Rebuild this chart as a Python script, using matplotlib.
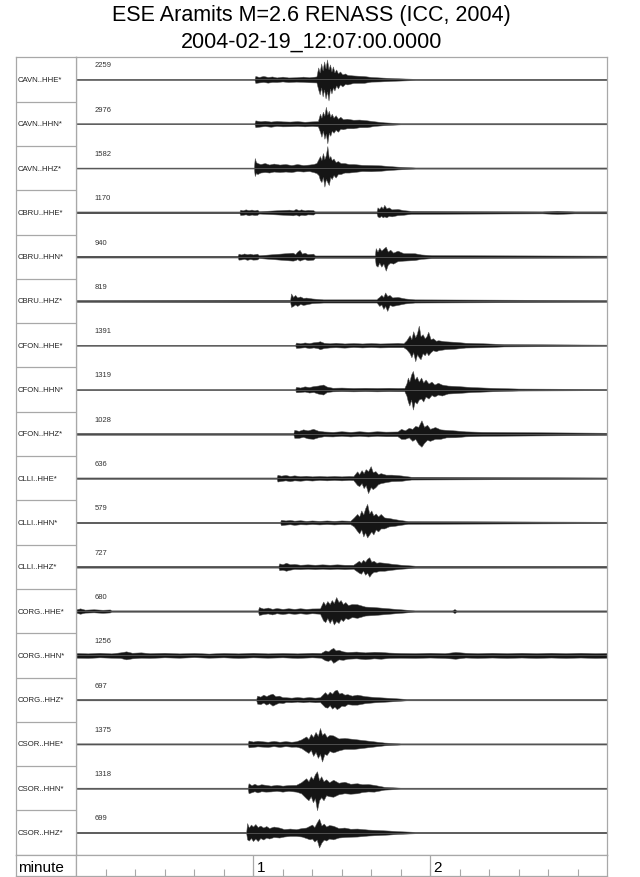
import matplotlib
matplotlib.use('Agg')
import numpy as np
import matplotlib.pyplot as plt

plt.rcParams['font.family'] = ['Liberation Sans', 'DejaVu Sans']

TITLE_1 = 'ESE Aramits M=2.6 RENASS (ICC, 2004)'
TITLE_2 = '2004-02-19_12:07:00.0000'

STATIONS = ['CAVN..HHE*', 'CAVN..HHN*', 'CAVN..HHZ*',
            'CBRU..HHE*', 'CBRU..HHN*', 'CBRU..HHZ*',
            'CFON..HHE*', 'CFON..HHN*', 'CFON..HHZ*',
            'CLLI..HHE*', 'CLLI..HHN*', 'CLLI..HHZ*',
            'CORG..HHE*', 'CORG..HHN*', 'CORG..HHZ*',
            'CSOR..HHE*', 'CSOR..HHN*', 'CSOR..HHZ*']
COUNTS = [2259, 2976, 1582, 1170, 940, 819, 1391, 1319, 1028,
          636, 579, 727, 680, 1256, 697, 1375, 1318, 699]

# trace envelopes: time (s), excursion up / down (px)
CAVN_HHE = ([0, 60.5, 60.8, 62, 63.5, 65, 66.5, 68, 70, 72, 74.6, 77, 79, 81.5,
             82.1, 82.6, 83.1, 83.6, 84.1, 84.6, 85.1, 85.6, 86.1, 86.6, 87.1, 87.6, 88.2, 88.8, 89.5, 90.3, 91.2, 92,
             94, 97.6, 100, 103, 108, 115, 180],
            [0.5, 0.5, 3.5, 2.5, 3.5, 2.5, 3, 2, 2.8, 2, 2.2, 2.8, 2.2, 3,
             12, 7, 16, 9, 18, 11, 20, 10, 15, 8, 13, 7, 10, 6, 8, 5, 6, 4.5,
             4, 3.4, 2.5, 2, 1.3, 0.6, 0.6],
            [0.5, 0.5, 3.5, 3, 2.5, 3.2, 2.5, 2.6, 2, 2.6, 2.2, 2.4, 2.8, 3,
             10, 15, 8, 17, 10, 19, 12, 21, 9, 14, 8, 11, 6, 9, 5, 7, 4.5, 5,
             3.5, 3.4, 2.2, 2, 1.3, 0.6, 0.6])
CAVN_HHN = ([0, 60.5, 60.8, 62.5, 64, 66, 68, 70, 72.5, 75, 77.5, 80, 82,
             82.7, 83.2, 83.7, 84.2, 84.7, 85.2, 85.7, 86.2, 86.7, 87.3, 88, 88.8, 89.6, 90.5, 91.8,
             94, 96, 98.7, 101, 104.5, 110, 180],
            [0.5, 0.5, 3.4, 2.5, 3, 2.2, 2.8, 2.4, 2.2, 2.6, 2, 2.4, 2.6,
             10, 6, 12, 8, 17, 9, 13, 7, 10, 6, 8.5, 5, 7, 4.5, 5,
             4, 4.2, 3.4, 2.5, 1.4, 0.6, 0.6],
            [0.5, 0.5, 3.4, 2.8, 2.3, 3, 2.2, 2.6, 2.5, 2.2, 2.6, 2.2, 2.6,
             8, 13, 7, 15, 10, 19.6, 9, 12, 7, 9, 6, 8, 5, 5.5, 4.5,
             4.5, 3.5, 3.4, 2.2, 1.4, 0.6, 0.6])
CAVN_HHZ = ([0, 60.3, 60.6, 61, 61.5, 62.5, 64, 65.5, 67, 69, 71, 73, 75, 77, 79, 80.4,
             81.5, 82.2, 82.7, 83.2, 83.7, 84.2, 84.7, 85.2, 85.7, 86.2, 86.7, 87.3, 88, 88.8, 89.7, 91, 92.5, 94.1,
             97, 100, 103.3, 106, 109, 115, 180],
            [0.5, 0.5, 10, 6, 5, 4, 5, 3.5, 4.5, 3.5, 4, 3, 4, 3, 3.5, 4,
             5, 9, 12, 8, 15, 9, 13, 22, 10, 12, 8, 9.5, 6, 7, 5, 5, 4, 4,
             3.2, 3, 2.7, 2, 1.4, 0.6, 0.6],
            [0.5, 0.5, 8, 5, 6, 4.5, 4, 4.5, 3.5, 4, 3.5, 4, 3, 3.5, 3, 4,
             5, 7, 12, 14, 9, 18.6, 11, 14, 17, 9, 11, 7, 9.5, 6, 6, 4.5, 4.5, 4,
             3, 3.2, 2.7, 2, 1.4, 0.6, 0.6])
CBRU_HHE = ([0, 55.4, 55.7, 56.5, 57.5, 58.5, 59.5, 60.5, 61.4, 62, 72.3, 73.5, 74.5, 75.5, 76.3, 77.5, 78.5, 80.4, 81,
             101.9, 102.2, 102.8, 103.4, 104, 104.5, 105.2, 106, 107, 109, 111, 113.6, 158, 163, 169, 180],
            [0.9, 0.9, 2.7, 2, 3, 2.2, 2.8, 2, 2.7, 1.2, 2.7, 2, 3.4, 2.2, 3, 2, 2.5, 2.2, 1,
             1, 5, 3.5, 6, 4, 7.5, 4, 5, 3, 3.4, 2.2, 1.5, 1, 1.6, 1, 1],
            [0.9, 0.9, 2.7, 2.5, 2, 3, 2.2, 2.7, 2.5, 1.2, 2.7, 3, 2.2, 3.4, 2.4, 2.8, 2, 2.2, 1,
             1, 4, 5, 3.5, 5, 4, 5, 3.5, 4, 2.8, 2.4, 1.5, 1, 1.6, 1, 1])
CBRU_HHN = ([0, 54.8, 55.1, 56, 57, 58, 59, 60, 61.4, 62, 73.5, 74.3, 75, 75.8, 76.6, 77.5, 78.5, 80.4, 81,
             101.3, 101.6, 102.2, 102.8, 103.5, 104.2, 105, 105.7, 106.5, 107.5, 109, 111, 114.8, 117, 120.5, 180],
            [0.9, 0.9, 3, 2.2, 3.2, 2.4, 3, 2.2, 3, 1.4, 4, 2.5, 5, 6.8, 3, 4, 2.5, 3, 1.2,
             1.2, 8.5, 5, 9, 6, 8, 10, 5, 7, 4, 6, 3.5, 3.4, 2.2, 1.5, 1],
            [0.9, 0.9, 3, 2.8, 2.2, 3.2, 2.4, 3, 2.8, 1.4, 4, 3.5, 2.5, 4, 3, 2.5, 3.5, 3, 1.2,
             1.2, 8.5, 10, 6, 10, 7, 14, 8, 6, 7, 4.5, 4, 3.4, 2.2, 1.5, 1])
CBRU_HHZ = ([0, 55, 72.6, 72.9, 73.6, 74.3, 75, 76, 77, 78, 80, 83.8,
             101.9, 102.2, 102.8, 103.5, 104.2, 104.8, 105.5, 106.3, 107.2, 109, 111.5, 114.8, 180],
            [0.9, 1.2, 1.2, 7.5, 4, 6, 3.5, 4.5, 3, 3.4, 2.5, 1.6,
             1.6, 2.7, 4, 6, 4, 8.5, 5, 6, 3.5, 4, 2.5, 1.6, 0.9],
            [0.9, 1.2, 1.2, 6, 5, 3.5, 5, 3, 4, 3.4, 2.2, 1.6,
             1.6, 2.7, 5, 3.5, 8, 5, 10, 4, 5, 4, 2.5, 1.6, 0.9])
CFON_HHE = ([0, 74.3, 74.6, 76, 77.5, 79, 80.5, 82, 82.7, 84, 86, 88, 91, 94, 97, 100, 103, 106, 109, 111,
             112, 113.1, 113.7, 114.3, 115, 115.6, 116.2, 116.8, 117.5, 118.2, 118.8, 119.4, 120.2, 121, 122, 122.8,
             125, 128.6, 132, 137.8, 145, 180],
            [0.5, 0.5, 2.7, 2, 2.8, 2.2, 3, 3.5, 4, 2.5, 2, 2.5, 1.8, 2.2, 1.8, 2.2, 1.8, 2, 2.4, 2,
             5, 10, 6, 14, 8, 12, 19.6, 9, 11, 7, 9, 13.5, 6, 7, 4.5, 5,
             4, 3.4, 2.5, 2, 1.2, 0.6],
            [0.5, 0.5, 2.7, 2.4, 2, 2.8, 2.2, 3, 4, 2.8, 2.2, 2, 2.4, 1.8, 2.2, 1.8, 2.2, 2, 2, 2,
             4, 8, 12, 7, 16, 9, 12, 14, 8, 10, 7, 10, 7, 5, 6, 5,
             4, 3.4, 2.3, 2, 1.2, 0.6])
CFON_HHN = ([0, 74.3, 74.6, 76, 77.5, 79, 80.5, 82, 83.8, 85, 87, 90, 94, 98, 102, 106, 109, 111.3,
             112, 112.5, 113, 113.6, 114.2, 114.8, 115.5, 116.2, 117, 117.7, 118.5, 119.5, 120.5, 121.5, 122.7, 124,
             126, 129.7, 134, 141.2, 150, 180],
            [0.5, 0.5, 2.7, 2, 3.2, 2.5, 3.5, 4, 5, 3, 1.8, 2, 1.6, 1.8, 1.6, 1.8, 1.6, 1.7,
             6, 12, 8, 15, 18.6, 10, 13, 8, 12, 7, 10, 6, 8, 5, 6.8, 5,
             4, 3.4, 2.5, 1.7, 1, 0.6],
            [0.5, 0.5, 2.7, 2.5, 2, 3, 2.5, 4, 5, 2.5, 1.8, 1.6, 1.8, 1.6, 1.8, 1.6, 1.7, 1.7,
             6, 12, 16, 10, 20, 12, 14, 10, 9, 12, 7, 9, 5.5, 7, 5, 6,
             4, 3.4, 2.5, 1.7, 1, 0.6])
CFON_HHZ = ([0, 73.7, 74, 75.5, 77, 78.5, 80.4, 82, 84, 87, 90, 93, 96, 99, 102, 105, 109,
             110.2, 111.5, 112.8, 114, 115, 116, 117.1, 118, 119, 120, 121.7, 123.5,
             125.5, 128.6, 132, 137.8, 180],
            [0.9, 0.9, 4, 3, 4.5, 3.5, 5, 3.2, 2.4, 2, 2.6, 2, 2.6, 2, 2.6, 2.2, 2.4,
             5, 3.5, 6, 5, 8, 7, 13.5, 7, 9, 5, 6.8, 4.5,
             4, 3.4, 2.5, 2, 1.1],
            [0.9, 0.9, 4, 4, 3, 4.5, 5, 3.5, 2.4, 2.6, 2, 2.6, 2, 2.6, 2, 2.4, 2.4,
             5, 5, 3.5, 7, 5, 10, 12.9, 9, 6, 7, 5, 5,
             3.5, 3.4, 2.5, 2, 1.1])
CLLI_HHE = ([0, 68, 68.3, 69.5, 71, 72.5, 74, 76, 78, 80, 82.5, 85, 87.5, 90, 92.5, 94,
             95.3, 96, 96.8, 97.5, 98.2, 99, 99.9, 100.6, 101.5, 102.4, 103.3, 105, 107,
             110.2, 113.6, 180],
            [0.7, 0.7, 3.4, 2.5, 3.2, 2.2, 2.8, 2, 2.4, 1.8, 2.2, 1.8, 2.2, 1.8, 2.2, 2,
             6.8, 4, 8, 5, 9, 7, 12, 6, 7, 4, 5, 3.5, 3.5,
             2.7, 1.4, 0.7],
            [0.7, 0.7, 3.4, 2.8, 2.2, 3, 2.2, 2.6, 2, 2.4, 1.8, 2.2, 1.8, 2.2, 1.8, 2,
             6.8, 8, 5, 10, 7, 15, 9, 11, 9, 6, 5, 4, 3,
             2.7, 1.4, 0.7])
CLLI_HHN = ([0, 69.2, 69.5, 71, 72.5, 74, 76, 78, 80, 82.5, 85, 87.5, 90, 93,
             94.2, 95.3, 96, 96.7, 97.4, 98, 98.7, 99.4, 100.1, 100.8, 101.6, 102.4, 103.3, 104.5, 106,
             107.9, 110, 112.5, 180],
            [0.7, 0.7, 2.7, 2, 2.5, 1.8, 2.2, 1.6, 2, 1.6, 2, 1.6, 2, 1.7,
             5, 8.5, 6, 12, 8, 14, 18.6, 9, 12, 7, 9, 6, 8.5, 5, 4.5,
             3.4, 2.4, 1.4, 0.7],
            [0.7, 0.7, 2.7, 2.2, 1.8, 2.4, 1.8, 2, 1.6, 2, 1.6, 2, 1.6, 1.7,
             4, 8.5, 11, 7, 14, 10, 15, 12, 9, 12, 7, 9, 6, 6, 4,
             3.4, 2.4, 1.4, 0.7])
CLLI_HHZ = ([0, 68.6, 68.9, 70, 71.2, 72.5, 74, 76, 78.5, 81, 83.5, 86, 88.5, 91, 94,
             95.9, 96.6, 97.3, 98, 98.7, 99.4, 100.1, 100.9, 101.8, 102.8, 104.5,
             107, 110.2, 115, 180],
            [0.9, 0.9, 3.4, 2.5, 4, 2.5, 2.8, 2, 2.4, 2, 2.4, 2, 2.4, 2, 2,
             6, 4, 7, 5, 8, 9.5, 5, 6, 4, 4.5, 4,
             3, 2, 1, 0.9],
            [0.9, 0.9, 3.4, 3, 4, 3, 2.2, 2.4, 2, 2.4, 2, 2.4, 2, 2.4, 2,
             6, 7, 4, 8, 6, 10, 7, 5, 5, 4, 4,
             3, 2, 1, 0.9])
CORG_HHE = ([0, 1.4, 3, 6, 9, 11.5, 12, 61.7,
             62, 63.5, 65, 66.5, 68, 70, 72, 74, 76, 78, 80, 82.7,
             83.8, 84.5, 85.2, 86, 86.7, 87.4, 88.2, 89, 89.7, 90.5, 91.3, 92.2, 93.5, 95.3,
             98, 101, 105, 109, 114.8, 127.5, 128.3, 129, 180],
            [1.7, 2.7, 1.4, 1.8, 1.3, 1.6, 0.7, 0.7,
             4, 2.5, 3.5, 2.2, 3, 2.2, 2.8, 2.2, 2.8, 2.2, 2.6, 2.7,
             9.5, 6, 10, 7, 11, 8, 14, 9, 11, 7, 9, 6, 7, 6.8,
             4.5, 4, 3, 2, 0.7, 0.7, 2, 0.7, 0.7],
            [1.7, 2.7, 1.6, 1.3, 1.8, 1.4, 0.7, 0.7,
             4, 3, 2.4, 3.4, 2.2, 3, 2.2, 2.8, 2.2, 2.8, 2.2, 2.7,
             9.5, 11, 7, 12, 8, 13.5, 10, 12, 8, 10, 7, 8, 6, 6.8,
             4.5, 4, 3, 2, 0.7, 0.7, 2, 0.7, 0.7])
CORG_HHN = ([0, 4, 8, 12, 15, 17, 19, 22, 25, 30, 35, 40, 45, 50, 55, 60, 65, 70, 75, 80, 83,
             84.5, 85.5, 86.3, 87.2, 88, 89, 90.5, 92, 95, 98, 101, 103.3, 106, 110,
             115, 120, 125, 128.6, 132, 136, 141, 146, 151, 156, 161, 166, 171, 176, 180],
            [2.4, 2, 2.6, 2, 3, 4, 2.6, 3, 2.2, 2.6, 2, 2.4, 1.8, 2.4, 2, 2.6, 2, 2.4, 2, 2.6, 2.4,
             5, 4, 6, 7.5, 5, 5.5, 4, 3.4, 3.8, 3, 3.6, 3.4, 2.8, 2.4,
             2.2, 2.6, 2.2, 3.4, 2.6, 2.2, 2.6, 2.2, 2.6, 2.2, 2.6, 2.2, 2.6, 2.2, 2.4],
            [2.4, 2.6, 2, 2.4, 2.6, 4, 3, 2.4, 2.6, 2, 2.4, 1.8, 2.4, 2, 2.6, 2, 2.4, 2, 2.6, 2, 2.4,
             5, 5.5, 4, 7.5, 6, 4, 4.5, 3.4, 3, 3.8, 3, 3.4, 2.6, 2.4,
             2.6, 2.2, 2.6, 3.4, 2.2, 2.6, 2.2, 2.6, 2.2, 2.6, 2.2, 2.6, 2.2, 2.6, 2.4])
CORG_HHZ = ([0, 61.1, 61.4, 62.5, 63.5, 64.5, 65.5, 66.6, 67.6, 68.8, 70, 71.2, 73, 75, 77, 79, 81, 82.7,
             84.4, 85.2, 86, 86.8, 87.6, 88.4, 89.2, 90, 91, 92, 93.5, 95.3,
             98, 101, 106.8, 112, 180],
            [0.7, 0.7, 4, 3, 5, 3.5, 5, 6, 3.5, 4, 2.5, 2.4, 2, 2.6, 2, 2.6, 2, 2.4,
             7.5, 5, 8, 6, 9, 10, 6, 7, 5, 5.5, 4, 5,
             3.5, 2.7, 1.7, 0.7, 0.7],
            [0.7, 0.7, 4, 4.5, 3, 5, 3.5, 6, 4.5, 3, 3.5, 2.4, 2.6, 2, 2.6, 2, 2.6, 2.4,
             7.5, 8, 5.5, 9, 7, 9.5, 8, 6, 6.5, 4.5, 5, 5,
             3.5, 2.7, 1.7, 0.7, 0.7])
CSOR_HHE = ([0, 58.2, 58.5, 60, 61.5, 63.1, 65, 67, 69, 71, 73, 74.6, 76.3, 78,
             78.8, 79.6, 80.4, 81.2, 82, 82.7, 83.4, 84.2, 85, 85.9, 87.2, 89, 91, 94.1,
             98.7, 104.5, 110, 180],
            [0.6, 0.6, 3.4, 2.4, 3.2, 2.7, 2.2, 3, 2.2, 2.8, 2.2, 2.7, 4.5, 7.5,
             5, 10, 7, 12, 8, 16, 9, 11, 7, 9, 8.5, 5.5, 6, 5,
             3.4, 1.4, 0.6, 0.6],
            [0.6, 0.6, 3.4, 3, 2.4, 2.7, 3, 2.2, 3, 2.2, 2.8, 2.7, 4, 7.5,
             9, 6, 12, 8, 14, 10, 17.6, 10, 11, 7, 8.5, 6.5, 5, 5,
             3.4, 1.4, 0.6, 0.6])
CSOR_HHN = ([0, 58.2, 58.5, 59.5, 60.5, 61.5, 62.8, 64.3, 66, 68, 70, 72, 74.6, 76.3, 78,
             78.8, 79.6, 80.3, 81, 81.7, 82.4, 83.1, 83.9, 84.8, 85.8, 87.2, 89, 91, 93, 95.3,
             97, 99, 101, 104.5, 110, 180],
            [0.6, 0.6, 5, 3, 4.5, 3, 4, 3.4, 2.6, 3.4, 2.6, 3.2, 3.4, 6, 10,
             7, 12, 9, 14, 17, 8, 12, 7, 9, 6, 8.5, 5.5, 6.5, 4.5, 5,
             4, 4.2, 3.4, 1.4, 0.6, 0.6],
            [0.6, 0.6, 5, 4, 3, 4.2, 3, 3.4, 3.2, 2.6, 3.4, 2.6, 3.4, 5, 10,
             12, 8, 14, 10, 22, 12, 9, 12, 7, 8, 8.5, 6, 5, 5.5, 5,
             3.8, 3.2, 3.4, 1.4, 0.6, 0.6])
CSOR_HHZ = ([0, 57.7, 58, 58.6, 59.3, 60, 60.8, 61.6, 62.5, 63.5, 64.5, 65.5, 67, 68.9, 70.5, 72.5, 74.6, 76.5, 78, 79.2,
             80, 80.8, 81.6, 82.4, 83.2, 84, 84.8, 85.8, 87.2, 89, 91, 93, 95.3,
             99, 103.3, 106, 109, 115, 180],
            [0.7, 0.7, 9.5, 5, 8, 6, 8.5, 5.5, 7, 5, 6.5, 4.5, 6, 5, 3.5, 4, 3.4, 4.5, 5, 6.8,
             8, 5.5, 10, 14, 7, 9, 6, 7.5, 6.8, 4.5, 5, 3.8, 4,
             3, 2.4, 2, 1.4, 0.7, 0.7],
            [0.7, 0.7, 6.8, 8, 5.5, 8.5, 6, 8.5, 5.5, 7, 5, 6, 4.5, 5, 4, 3.4, 3.4, 4, 5.5, 6.8,
             6, 9, 7, 15, 10, 7, 8, 6, 6.8, 5, 4.5, 4.2, 4,
             3, 2.4, 2, 1.4, 0.7, 0.7])

TRACES = [CAVN_HHE, CAVN_HHN, CAVN_HHZ, CBRU_HHE, CBRU_HHN, CBRU_HHZ,
          CFON_HHE, CFON_HHN, CFON_HHZ, CLLI_HHE, CLLI_HHN, CLLI_HHZ,
          CORG_HHE, CORG_HHN, CORG_HHZ, CSOR_HHE, CSOR_HHN, CSOR_HHZ]

T_MAX = 180                      # seconds on the time axis
MINOR_TICKS = list(range(10, 180, 10))
MAJOR_TICKS = [60, 120]
MAJOR_LABELS = ['1', '2']

W, H = 640, 878
ROW_PX = 44.3
GRID = '#a8a8a8'

fig = plt.figure(figsize=(W / 100, H / 100), dpi=100)
n = len(STATIONS)

plot_top, plot_bot = 58.3, 855.7
x_lab, x_plot, x_right = 16, 76, 607
bottom_frac = (H - plot_bot) / H
height_frac = (plot_bot - plot_top) / H

# ---- traces
ax = fig.add_axes([x_plot / W, bottom_frac, (x_right - x_plot) / W, height_frac])
ax.set_xlim(0, T_MAX)
ax.set_ylim(n, 0)
for i, (t, up, dn) in enumerate(TRACES):
    base = i + 0.5
    t = np.asarray(t, float)
    up = np.asarray(up, float) / ROW_PX
    dn = np.asarray(dn, float) / ROW_PX
    ax.hlines(base, 0, T_MAX, color='#666666', lw=0.5)
    ax.fill_between(t, base - up, base + dn, facecolor='#151515',
                    edgecolor='#5a5a5a', lw=0.35)
    ax.text(6.4, i + 0.17, str(COUNTS[i]), fontsize=5.5, color='#333333',
            va='center', ha='left')
ax.set_xticks([]); ax.set_yticks([])
for s in ax.spines.values():
    s.set_color(GRID); s.set_linewidth(0.9)

# ---- station label column
lab = fig.add_axes([x_lab / W, bottom_frac, (x_plot - x_lab) / W, height_frac])
lab.set_xlim(0, 1)
lab.set_ylim(n, 0)
for i, name in enumerate(STATIONS):
    lab.text(0.02, i + 0.5, name, fontsize=5.6, color='#222222', va='center', ha='left')
lab.hlines(np.arange(1, n), 0, 1, color=GRID, lw=0.9)
lab.set_xticks([]); lab.set_yticks([])
for s in lab.spines.values():
    s.set_color(GRID); s.set_linewidth(0.9)

# ---- time axis row
row_h = (H - 1 - plot_bot) / H
mlab = fig.add_axes([x_lab / W, 1 / H, (x_plot - x_lab) / W, row_h])
mlab.set_xticks([]); mlab.set_yticks([])
mlab.text(0.03, 0.42, 'minute', fontsize=11, va='center', ha='left', transform=mlab.transAxes)
for s in mlab.spines.values():
    s.set_color(GRID); s.set_linewidth(0.9)

tax = fig.add_axes([x_plot / W, 1 / H, (x_right - x_plot) / W, row_h])
tax.set_xlim(0, T_MAX)
tax.set_ylim(0, 1)
tax.set_yticks([])
tax.set_xticks(MINOR_TICKS)
tax.set_xticklabels([])
tax.tick_params(axis='x', direction='in', length=5, width=0.8, color=GRID)
tax.vlines(MAJOR_TICKS, 0, 1, color=GRID, lw=0.9)
for xt, lbl in zip(MAJOR_TICKS, MAJOR_LABELS):
    tax.text(xt + 1.2, 0.42, lbl, fontsize=11, va='center', ha='left')
for s in tax.spines.values():
    s.set_color(GRID); s.set_linewidth(0.9)

# ---- title
xc = (x_lab + x_right) / 2 / W
fig.text(xc, 1 - 15 / H, TITLE_1, fontsize=15.5, ha='center', va='center')
fig.text(xc, 1 - 42 / H, TITLE_2, fontsize=15.5, ha='center', va='center')

fig.savefig('out.png', dpi=100)
